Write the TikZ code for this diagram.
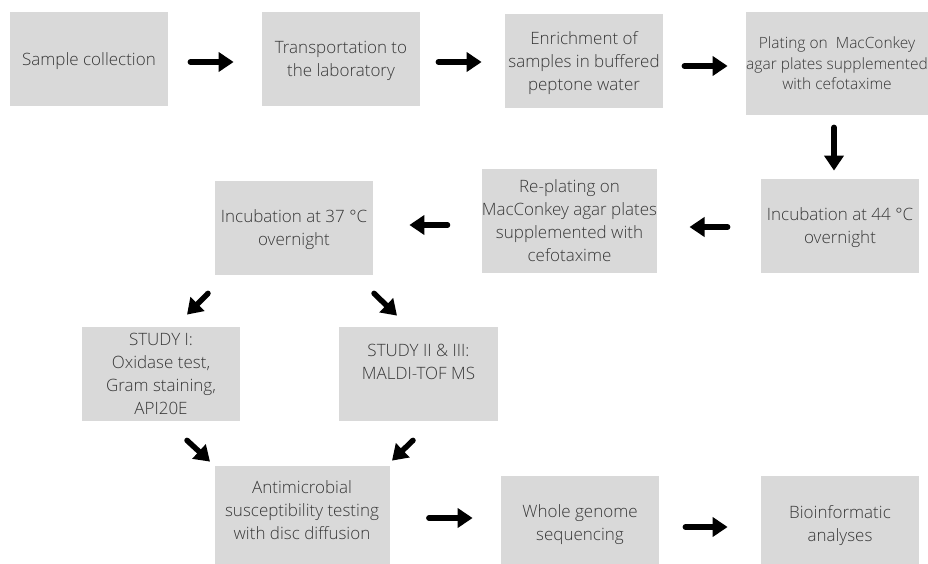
\documentclass[tikz,border=0pt]{standalone}
\usepackage{fontspec}
\setmainfont{Open Sans Light}
\usetikzlibrary{arrows.meta,calc}

\definecolor{boxgray}{RGB}{217,217,217}
\definecolor{textgray}{RGB}{55,55,55}

\tikzset{every picture/.style={line width=0.75pt}}
\tikzset{
	stepbox/.style={fill=boxgray, draw=none, text=textgray, align=center, inner sep=0pt, text depth=-2pt,
		minimum width=158pt, minimum height=94pt, font=\fontsize{17}{23}\selectfont},
	thickarrow/.style={line width=5.5pt, line cap=round, -{Triangle[length=15pt,width=19pt]}}
}

\begin{document}
\begin{tikzpicture}[x=1pt,y=1pt,yscale=-1,xscale=1]
	\useasboundingbox (0,0) rectangle (928,564);

	% Row 1
	\node[stepbox] (collect) at (89,59) {Sample collection};
	\node[stepbox] (transport) at (341,59) {Transportation to\\the laboratory};
	\node[stepbox] (enrich) at (584,61) {Enrichment of\\samples in buffered\\peptone water};
	\node[stepbox, minimum width=182pt, minimum height=103pt, text depth=0pt, font=\fontsize{15.5}{20.5}\selectfont] (plating) at (837,63.5) {Plating on\ \ MacConkey\\agar plates supplemented\\with cefotaxime};

	% Row 2
	\node[stepbox] (inc44) at (840,226) {Incubation at 44 °C\\overnight};
	\node[stepbox, minimum width=175pt, minimum height=104pt] (replate) at (569.5,221) {Re-plating on\\MacConkey agar plates\\supplemented with\\cefotaxime};
	\node[stepbox] (inc37) at (294,228) {Incubation at 37 °C\\overnight};

	% Row 3
	\node[stepbox] (study1) at (161,374) {STUDY I:\\Oxidase test,\\Gram staining,\\API20E};
	\node[stepbox, minimum width=159pt, text depth=24pt] (study2) at (418.5,374) {STUDY II \& III:\\MALDI-TOF MS};

	% Row 4
	\node[stepbox, minimum width=175pt, minimum height=98pt, text depth=10pt] (amr) at (302,515) {Antimicrobial\\susceptibility testing\\with disc diffusion};
	\node[stepbox] (wgs) at (580,523) {Whole genome\\sequencing};
	\node[stepbox] (bioinf) at (840,523) {Bioinformatic\\analyses};

	% Arrows
	\draw[thickarrow] ($(collect.east)+(22,3)$) -- ($(transport.west)+(-28,3)$);
	\draw[thickarrow] ($(transport.east)+(18,3)$) -- ($(enrich.west)+(-23,1)$);
	\draw[thickarrow] ($(enrich.east)+(21,5)$) -- ($(plating.west)+(-18,2.5)$);
	\draw[thickarrow] ($(plating.south)+(-3,12)$) -- ($(inc44.north)+(-6,-8)$);
	\draw[thickarrow] ($(inc44.west)+(-33,1)$) -- ($(replate.east)+(32,6)$);
	\draw[thickarrow] ($(replate.west)+(-34,4)$) -- ($(inc37.east)+(36,-3)$);
	\draw[thickarrow] ($(inc37.south)+(-86,18)$) -- ($(study1.north)+(26,-12)$);
	\draw[thickarrow] ($(inc37.south)+(80,18)$) -- ($(study2.north)+(-21.5,-11)$);
	\draw[thickarrow] ($(study1.south)+(26,19)$) -- ($(amr.north)+(-92,-4)$);
	\draw[thickarrow] ($(study2.south)+(-5.5,19)$) -- ($(amr.north)+(90,-5)$);
	\draw[thickarrow] ($(amr.east)+(39,3)$) -- ($(wgs.west)+(-28,-5)$);
	\draw[thickarrow] ($(wgs.east)+(26,4)$) -- ($(bioinf.west)+(-33,4)$);

\end{tikzpicture}
\end{document}
